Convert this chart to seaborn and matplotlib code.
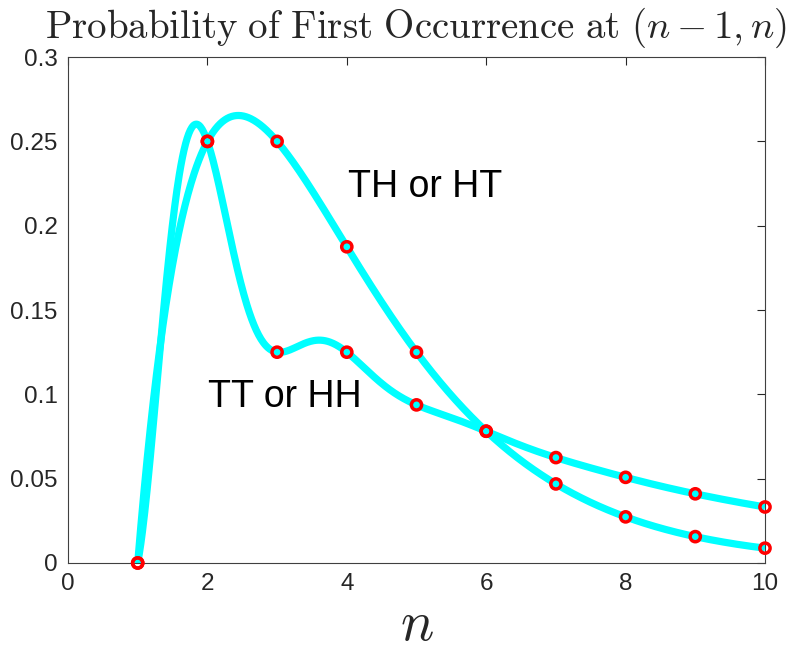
import numpy as np
import pandas as pd
import matplotlib
matplotlib.use("Agg")
import matplotlib.pyplot as plt
import seaborn as sns
from matplotlib.ticker import FuncFormatter

# Data (probability of first occurrence of the pair at tosses (n-1, n))
n_vals = [1, 2, 3, 4, 5, 6, 7, 8, 9, 10]
th_ht = [0, 0.25, 0.25, 0.1875, 0.125, 0.078125, 0.046875, 0.02734375, 0.015625, 0.0087890625]
tt_hh = [0, 0.25, 0.125, 0.125, 0.09375, 0.078125, 0.0625, 0.05078125, 0.041015625, 0.033203125]
x_ticks = [0, 2, 4, 6, 8, 10]
y_ticks = [0, 0.05, 0.1, 0.15, 0.2, 0.25, 0.3]
title_text = r"$\mathrm{Probability\ of\ First\ Occurrence\ at\ }(n-1,n)$"
label_th = "TH or HT"
label_tt = "TT or HH"


# Continuous curves drawn through the points (continuous-n form of the same laws)
def curve_th(n):
    return (n - 1) / 2.0 ** n


def curve_tt(n):
    phi = (1 + np.sqrt(5)) / 2
    k = n - 1
    fib = (phi ** k - np.cos(np.pi * k) * phi ** (-k)) / np.sqrt(5)
    return fib / 2.0 ** n


sns.set_theme(style="white")
plt.rcParams["font.family"] = ["Liberation Sans", "DejaVu Sans"]
plt.rcParams["mathtext.fontset"] = "cm"

fig = plt.figure(figsize=(7.88, 6.56), dpi=100)
ax = fig.add_axes([0.0863, 0.1418, 0.8845, 0.7712])

xs = np.linspace(min(n_vals), max(n_vals), 800)
for fn in (curve_th, curve_tt):
    df = pd.DataFrame({"n": xs, "p": fn(xs)})
    sns.lineplot(data=df, x="n", y="p", ax=ax, color="#00FFFF", lw=5.2, sort=False,
                 solid_capstyle="butt", zorder=2)
for series in (th_ht, tt_hh):
    sns.scatterplot(x=n_vals, y=series, ax=ax, marker="o", s=54, facecolors="none",
                    edgecolor="#FF0000", linewidth=2.5, zorder=3, clip_on=False)

ax.set_xlim(0, 10)
ax.set_ylim(0, 0.3)
ax.set_xticks(x_ticks)
ax.set_yticks(y_ticks)
ax.yaxis.set_major_formatter(FuncFormatter(lambda v, p: "%g" % v))
ax.xaxis.set_major_formatter(FuncFormatter(lambda v, p: "%g" % v))
ax.tick_params(direction="in", length=5.5, width=0.8, color="#262626",
               labelcolor="#262626", labelsize=17.5, top=True, right=True)
ax.tick_params(axis="y", pad=7.5)
ax.tick_params(axis="x", pad=7)
for s in ax.spines.values():
    s.set_visible(True)
    s.set_color("#404040")
    s.set_linewidth(0.8)

ax.set_xlabel(r"$n$", fontsize=40, labelpad=4)
ax.set_ylabel("")
ax.set_title(title_text, fontsize=28, pad=14)
ax.text(4.02, 0.217, label_th, fontsize=27, color="black", ha="left", va="baseline")
ax.text(2.01, 0.0925, label_tt, fontsize=27, color="black", ha="left", va="baseline")

fig.savefig("out.png", dpi=100)
